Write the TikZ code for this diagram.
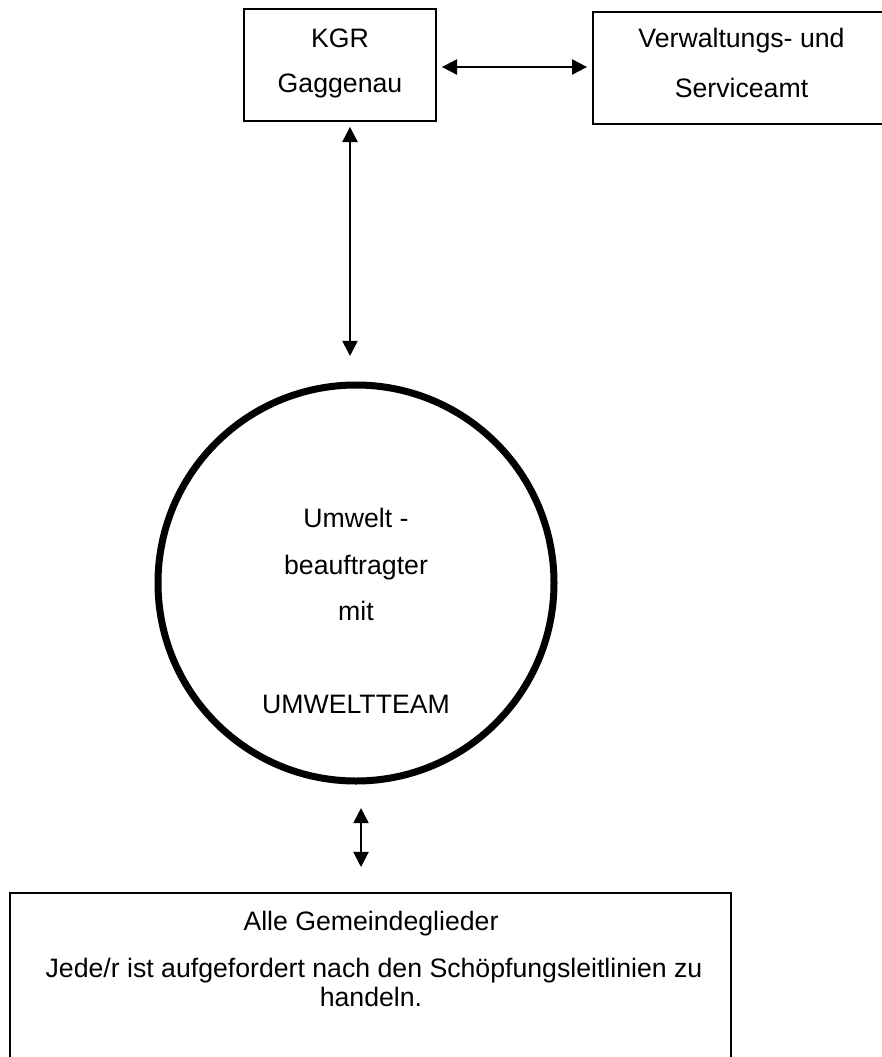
\documentclass[tikz,border=0pt]{standalone}
\usepackage{fontspec}
\setmainfont{Liberation Sans}
\usetikzlibrary{arrows.meta}

\begin{document}
\begin{tikzpicture}
[x=0.45pt,y=-0.45pt,
  boxdecorate/.style={shape=rectangle,draw,line width=0.8pt,inner sep=0pt},%
  circledecorate/.style={shape=circle,draw,line width=3.15pt,inner sep=0pt,minimum size=178.2pt},%
  textdecorate/.style={anchor=base,inner sep=0pt,font=\fontsize{12}{14}\selectfont},%
  linedecorate/.style={{Triangle[length=6.8pt,width=6.8pt]}-{Triangle[length=6.8pt,width=6.8pt]},line width=0.9pt}]
\useasboundingbox (0,0) rectangle (882,1057);
%% boxes and circle
\node (kgr) at (340,65) [boxdecorate,minimum width=86.4pt,minimum height=50.4pt] {};
\node (amt) at (741.5,68) [boxdecorate,minimum width=133.65pt,minimum height=50.4pt] {};
\node (team) at (356,583) [circledecorate] {};
\node (alle) at (370.5,990) [boxdecorate,minimum width=324.45pt,minimum height=87.3pt] {};
%% texts
\foreach \nodename/\x/\y/\nodetext in {kgrA/340/47/KGR, kgrB/340/92/Gaggenau,
  amtA/741.5/48/Verwaltungs- und, amtB/741.5/97/Serviceamt,
  teamA/356/527/Umwelt -, teamB/356/574/beauftragter, teamC/356/620/mit,
  teamD/356/713/UMWELTTEAM, alleA/371/930/Alle Gemeindeglieder,
  alleB/374/977/{Jede/r ist aufgefordert nach den Schöpfungsleitlinien zu},
  alleC/371/1006/handeln.}
{
  \node (\nodename) at (\x,\y) [textdecorate] {\nodetext};
}
%% arrows
\path
  ([yshift=-0.9pt]kgr.east) edge[linedecorate,shorten <=2.25pt,shorten >=2.25pt]
    ([yshift=-0.9pt]kgr.east -| amt.west)
  ([xshift=4.5pt]kgr.south) edge[linedecorate,shorten <=2.25pt,shorten >=11.5pt]
    ([xshift=4.5pt]kgr.south |- team.north)
  ([xshift=2.25pt]team.south) edge[linedecorate,shorten <=10.6pt,shorten >=11.3pt]
    ([xshift=2.25pt]team.south |- alle.north);
\end{tikzpicture}
\end{document}
